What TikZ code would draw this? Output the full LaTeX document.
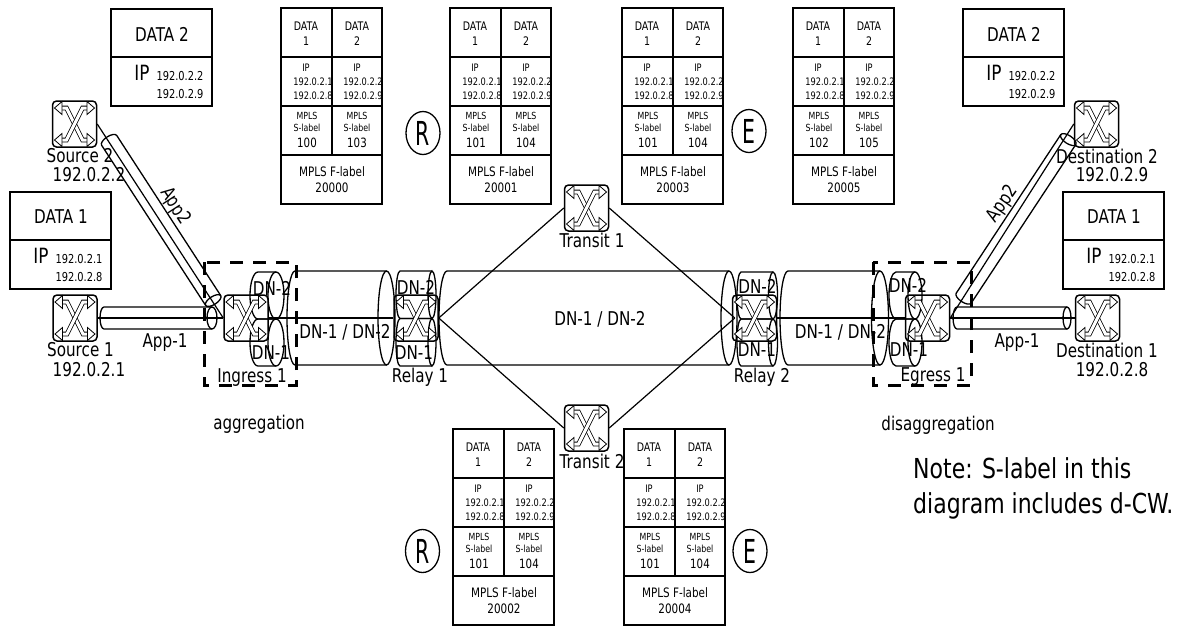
\documentclass[tikz,border=0pt]{standalone}
\usepackage{fontspec}
\usetikzlibrary{shapes.geometric}
\setmainfont{DejaVu Sans}[FakeStretch=0.8]
\newfontfamily\narrowf{DejaVu Sans}[FakeStretch=0.62]
\newcommand{\fsz}[1]{\fontsize{#1}{#1}\selectfont}
\tikzset{
  x=1pt,y=-1pt,
  router/.style={draw,line width=1.5pt,rounded corners=4pt,minimum width=44pt,minimum height=46pt,inner sep=0pt},
  lbl/.style={inner sep=0pt,font=\fsz{19}},
  num/.style={inner sep=0pt,font=\fsz{19}},
  small/.style={inner sep=0pt,font=\fsz{10.3}},
  tinyl/.style={inner sep=0pt,font=\fsz{9.8}},
  dat/.style={inner sep=0pt,font=\fsz{11.8}},
  val/.style={inner sep=0pt,font=\fsz{12.8}},
  flab/.style={inner sep=0pt,font=\fsz{13}},
  boxln/.style={line width=1.7pt},
  cylln/.style={line width=1.3pt},
  link/.style={line width=1.2pt},
  roundmark/.style={draw,ellipse,line width=1.3pt,minimum width=34pt,minimum height=43pt,inner sep=0pt,font=\narrowf\fsz{33}},
  xicon/.pic={
    \foreach \sx/\sy in {1/1,1/-1}{
      \draw[line width=.8pt,double=white,double distance=3pt] (-\sx*13,-\sy*16) -- (-\sx*8,-\sy*16) -- (\sx*8,\sy*16) -- (\sx*13,\sy*16);
    }
    \foreach \sx in {1,-1}{\foreach \sy in {1,-1}{
      \draw[line width=.8pt,fill=white,line join=miter] (\sx*20,\sy*16) -- (\sx*12.5,\sy*22.5) -- (\sx*12.5,\sy*9.5) -- cycle;
    }}
  }
}
% cylinder: x0, ellipse-centre x, ytop, ybottom, left rx, right rx
\newcommand{\cylinder}[6]{%
  \draw[cylln] ({#2},{#3}) -- ({#1+#5},{#3})
    .. controls ({#1+0.45*#5},{#3}) and ({#1},{(#3)*0.78+(#4)*0.22}) .. ({#1},{(#3+#4)/2})
    .. controls ({#1},{(#3)*0.22+(#4)*0.78}) and ({#1+0.45*#5},{#4}) .. ({#1+#5},{#4})
    -- ({#2},{#4});
  \draw[cylln] ({#2},{(#3+#4)/2}) ellipse [x radius=#6pt,y radius={(#4-(#3))/2*1pt}];
}
% table: name, x, y, mid x offset, texts
\newcommand{\ptable}[6]{%
  \begin{scope}[shift={(#2,#3)}]
    \draw[boxln] (0,0) rectangle (101,196);
    \draw[boxln] (0,49) -- (101,49) (0,98) -- (101,98) (0,147) -- (101,147) (51,0) -- (51,147);
    \node[dat] (#1a) at (25,18) {DATA};
    \node[dat] (#1b) at (25,33) {1};
    \node[dat] (#1c) at (76,18) {DATA};
    \node[dat] (#1d) at (76,33) {2};
    \node[small] (#1e) at (25,60) {IP};
    \node[small] (#1f) at (76,60) {IP};
    \node[small] (#1g) at (32,74) {192.0.2.1};
    \node[small] (#1h) at (32,88) {192.0.2.8};
    \node[small] (#1i) at (82,74) {192.0.2.2};
    \node[small] (#1j) at (82,88) {192.0.2.9};
    \node[tinyl] (#1k) at (26,108) {MPLS};
    \node[tinyl] (#1l) at (26,120) {S-label};
    \node[tinyl] (#1m) at (76,108) {MPLS};
    \node[tinyl] (#1n) at (76,120) {S-label};
    \node[val] (#1o) at (26,135) {#4};
    \node[val] (#1p) at (76,135) {#5};
    \node[flab] (#1q) at (51,164) {MPLS F-label};
    \node[flab] (#1r) at (51,180) {#6};
  \end{scope}%
}
% data box
\newcommand{\dbox}[7]{%
  \begin{scope}[shift={(#2,#3)}]
    \draw[boxln] (0,0) rectangle (101,97);
    \draw[boxln] (0,48) -- (101,48);
    \node[lbl] (#1a) at (51,25) {DATA #4};
    \node[lbl,font=\fsz{21}] (#1b) at (31,64) {IP};
    \node[small,font=\fsz{12.3}] (#1c) at (69,67) {#5};
    \node[small,font=\fsz{12.3}] (#1d) at (69,85) {#6};
  \end{scope}%
}
\begin{document}
\begin{tikzpicture}
\useasboundingbox (0,0) rectangle (1181,630);
% cylinders
\cylinder{287}{386.5}{271}{365}{8}{8.5}
\cylinder{439}{729}{271}{365}{8}{8}
\cylinder{780}{880}{271}{365}{8}{8.5}
\cylinder{250}{276}{272}{319}{8}{8}
\cylinder{250}{276}{319}{366}{8}{8}
\cylinder{396}{432}{271}{318.5}{4}{4}
\cylinder{396}{432}{318.5}{366}{4}{4}
\cylinder{737}{773}{272}{319}{4}{4.5}
\cylinder{737}{773}{319}{366}{4}{4.5}
\cylinder{889}{915}{272}{319}{7}{7}
\cylinder{889}{915}{319}{366}{7}{7}
\cylinder{100}{212}{307}{329}{4}{5}
\cylinder{953}{1067}{307}{329}{4}{4}
\begin{scope}[shift={(107,137)},rotate=-57]
  \cylinder{0}{195}{-9}{9}{4}{4}
\end{scope}
\begin{scope}[shift={(961.5,301.5)},rotate=56.6]
  \cylinder{0}{194}{-9}{9}{4}{4}
\end{scope}
% routers
\node[router] (src2) at (74.5,124) {};
\node[router] (src1) at (75,318) {};
\node[router] (ing) at (246,318) {};
\node[router] (rly1) at (416,318) {};
\node[router] (tr1) at (586.5,208) {};
\node[router] (tr2) at (586.5,428) {};
\node[router] (rly2) at (754.5,318) {};
\node[router] (egr) at (927.5,318) {};
\node[router] (dst1) at (1097.5,318) {};
\node[router] (dst2) at (1096.5,124) {};
\foreach \n in {src2,src1,ing,rly1,tr1,tr2,rly2,egr,dst1,dst2}{\pic at (\n) {xicon};}
% connectors
\draw[link] (src1.east) -- (ing.west);
\draw[link] (src2.east) -- (ing.west);
\draw[link] (ing.east) -- (rly1.west);
\draw[link] (rly1.east) -- (tr1.west);
\draw[link] (rly1.east) -- (tr2.west);
\draw[link] (tr1.east) -- ([xshift=3pt]rly2.west);
\draw[link] (tr2.east) -- ([xshift=3pt]rly2.west);
\draw[link] (rly2.east) -- (egr.west);
\draw[link] (egr.east) -- (dst1.west);
\draw[link] (egr.east) -- (dst2.west);
% dashed boxes
\draw[line width=3pt,dash pattern=on 13pt off 10pt] (204,262) rectangle (296,385);
\draw[line width=3pt,dash pattern=on 13pt off 10pt] (873,262) rectangle (971,385);
% tables
\ptable{ta}{281}{8}{100}{103}{20000}
\ptable{tb}{450}{8}{101}{104}{20001}
\ptable{tc}{622}{8}{101}{104}{20003}
\ptable{td}{793}{8}{102}{105}{20005}
\ptable{te}{453}{429}{101}{104}{20002}
\ptable{tf}{624}{429}{101}{104}{20004}
% data boxes
\dbox{da}{111}{9}{2}{192.0.2.2}{192.0.2.9}{}
\dbox{db}{963}{9}{2}{192.0.2.2}{192.0.2.9}{}
\dbox{dc}{10}{192}{1}{192.0.2.1}{192.0.2.8}{}
\dbox{dd}{1063}{192}{1}{192.0.2.1}{192.0.2.8}{}
% circled letters
\node[roundmark] (ra) at (423,133) {R};
\node[roundmark] (ea) at (749,131) {E};
\node[roundmark] (rb) at (422.5,551) {R};
\node[roundmark] (eb) at (750,551) {E};
% labels
\node[lbl] (l1) at (80,156) {Source 2};
\node[num] (l2) at (89,175) {192.0.2.2};
\node[lbl] (l3) at (80.5,350) {Source 1};
\node[num] (l4) at (89,370) {192.0.2.1};
\node[lbl] (l5) at (1107,156) {Destination 2};
\node[num] (l6) at (1112,175) {192.0.2.9};
\node[lbl] (l7) at (1107,350) {Destination 1};
\node[num] (l8) at (1112,370) {192.0.2.8};
\node[lbl] (l9) at (252,378) {Ingress 1};
\node[lbl] (l10) at (420,377) {Relay 1};
\node[lbl] (l11) at (592,240) {Transit 1};
\node[lbl] (l12) at (592,461) {Transit 2};
\node[lbl] (l13) at (762,377) {Relay 2};
\node[lbl] (l14) at (933,377) {Egress 1};
\node[lbl] (l15) at (165,343) {App-1};
\node[lbl] (l16) at (1017,343) {App-1};
\node[lbl,rotate=-57] (l17) at (175,206) {App2};
\node[lbl,rotate=55] (l18) at (1003,204) {App2};
\node[lbl] (l19) at (272,288) {DN-2};
\node[lbl] (l20) at (271,353) {DN-1};
\node[lbl] (l21) at (345,332) {DN-1 / DN-2};
\node[lbl] (l22) at (416,287) {DN-2};
\node[lbl] (l23) at (414,353) {DN-1};
\node[lbl] (l24) at (600,319) {DN-1 / DN-2};
\node[lbl] (l25) at (757.5,286) {DN-2};
\node[lbl] (l26) at (757,350) {DN-1};
\node[lbl] (l27) at (840.5,332) {DN-1 / DN-2};
\node[lbl] (l28) at (908,285) {DN-2};
\node[lbl] (l29) at (909,350) {DN-1};
\node[inner sep=0pt,font=\fsz{18.9}] (l30) at (259,424) {aggregation};
\node[inner sep=0pt,font=\fsz{18.9}] (l31) at (938,425) {disaggregation};
\node[inner sep=0pt,font=\fsz{27.5},anchor=base west] (l32) at (913,478) {Note: S-label in this};
\node[inner sep=0pt,font=\fsz{27.5},anchor=base west] (l33) at (913,513) {diagram includes d-CW.};
\end{tikzpicture}
\end{document}
